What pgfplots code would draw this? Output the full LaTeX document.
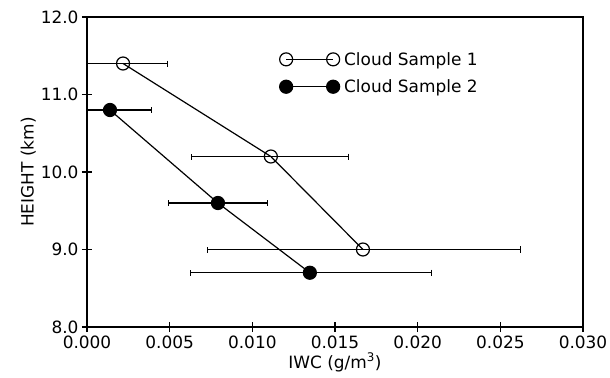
\documentclass[border=0pt]{standalone}
\usepackage{fontspec}
\setmainfont{DejaVu Sans}
\usepackage{pgfplots}
\pgfplotsset{compat=1.18}
\begin{document}
\begin{tikzpicture}
\begin{axis}[
  anchor=south west, at={(0,0)},
  scale only axis, width=496bp, height=310bp,
  xmin=0, xmax=0.030, ymin=8, ymax=12,
  xtick={0,0.005,0.010,0.015,0.020,0.025,0.030},
  ytick={8,9,10,11,12},
  tick pos=left, tick align=center, major tick length=10bp,
  scaled x ticks=false,
  xticklabel style={/pgf/number format/.cd, fixed, fixed zerofill, precision=3},
  yticklabel style={/pgf/number format/.cd, fixed, fixed zerofill, precision=1},
  /pgf/number format/assume math mode=true,
  font=\fontsize{17}{20}\selectfont,
  axis line style={line width=1.4bp},
  every tick/.style={line width=1.3bp, black},
  xlabel={IWC (g/m\textsuperscript{3})},
  ylabel={HEIGHT (km)},
  xlabel style={yshift=2bp},
  ylabel style={yshift=-2bp},
  legend style={draw=none, fill=none, at={(0.388,0.892)}, anchor=north west,
    inner sep=0pt, row sep=10bp, column sep=3bp, nodes={inner sep=1.5bp}},
  legend cell align=left,
  legend image code/.code={\draw[mark repeat=2,mark phase=1,#1] plot coordinates {(0bp,0bp)(23.5bp,0bp)(47bp,0bp)};},
]
\addplot[black, line width=1.2bp, mark=o, mark size=6.5bp, mark options={fill=white, line width=1.2bp},
  error bars/.cd, x dir=both, x explicit, error mark options={mark size=3bp, line width=1bp, rotate=90},
  error bar style={line width=1.2bp}]
  coordinates {
  (0.00218,11.4) += (0.00266,0) -= (0.0025,0)
  (0.01112,10.2) += (0.00472,0) -= (0.00477,0)
  (0.01669,9.0) += (0.00955,0) -= (0.00943,0)
  };
\addlegendentry{Cloud Sample 1}
\addplot[black, line width=1.2bp, mark=*, mark size=6.5bp, mark options={fill=black, line width=1.2bp},
  error bars/.cd, x dir=both, x explicit, error mark options={mark size=3bp, line width=1bp, rotate=90},
  error bar style={line width=1.2bp}]
  coordinates {
  (0.00139,10.8) += (0.00254,0) -= (0.0017,0)
  (0.00792,9.6) += (0.00302,0) -= (0.00302,0)
  (0.01348,8.7) += (0.00738,0) -= (0.00725,0)
  };
\addlegendentry{Cloud Sample 2}
\end{axis}
\pgfresetboundingbox
\path (-87bp,-51bp) rectangle (523bp,327bp);
\end{tikzpicture}
\end{document}
